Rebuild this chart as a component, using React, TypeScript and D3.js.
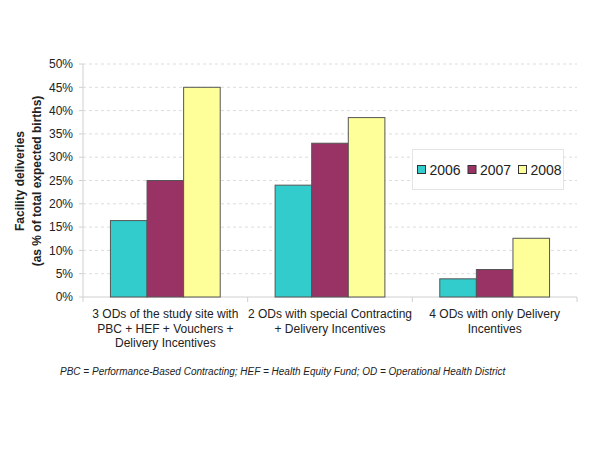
import React from "react";
import * as d3 from "d3";

const categories: string[][] = [
  ["3 ODs of the study site with", "PBC + HEF + Vouchers +", "Delivery Incentives"],
  ["2 ODs with special Contracting", "+ Delivery Incentives"],
  ["4 ODs with only Delivery", "Incentives"],
];
const years = ["2006", "2007", "2008"];
const values2006 = [16.4, 24.0, 3.9];
const values2007 = [25.0, 33.0, 5.9];
const values2008 = [45.0, 38.5, 12.6];
const yTicks = [0, 5, 10, 15, 20, 25, 30, 35, 40, 45, 50];
const colors = ["#33CCCC", "#993366", "#FFFF99"];

export default function App() {
  const W = 600, H = 450;
  const left = 83, right = 577, top = 64, bottom = 297;
  const series = [values2006, values2007, values2008];
  const x0 = d3.scaleBand<number>().domain(d3.range(categories.length)).range([left, right]).paddingInner(0).paddingOuter(0);
  const x1 = d3.scaleBand<number>().domain(d3.range(years.length)).range([0, x0.bandwidth()]).paddingOuter(0.75).paddingInner(0);
  const y = d3.scaleLinear().domain([0, 50]).range([bottom, top]);
  const font = "Liberation Sans, Arial, sans-serif";
  const step = x0.step();
  return (
    <svg width={W} height={H} style={{ position: "absolute", left: 0, top: 0, background: "#fff" }} fontFamily={font}>
      <rect width={W} height={H} fill="#fff" />
      {yTicks.map((t) => (
        <g key={t}>
          {t > 0 && (
            <line x1={left} x2={right} y1={y(t)} y2={y(t)} stroke="#dcdcdc" strokeDasharray="3,3" strokeWidth={1} />
          )}
          <line x1={left - 4} x2={left} y1={y(t)} y2={y(t)} stroke="#d0d0d0" />
          <text x={73} y={y(t)} dy="0.35em" textAnchor="end" fontSize={12} fill="#222">
            {t}%
          </text>
        </g>
      ))}
      <line x1={left} x2={left} y1={top} y2={bottom} stroke="#d0d0d0" />
      <line x1={left} x2={right} y1={bottom} y2={bottom} stroke="#d0d0d0" />
      {d3.range(categories.length + 1).map((i) => (
        <line key={i} x1={left + i * step} x2={left + i * step} y1={bottom} y2={bottom + 5} stroke="#d0d0d0" />
      ))}
      {categories.map((c, ci) =>
        series.map((s, si) => (
          <rect
            key={ci + "-" + si}
            x={(x0(ci) as number) + (x1(si) as number)}
            y={y(s[ci])}
            width={x1.bandwidth()}
            height={bottom - y(s[ci])}
            fill={colors[si]}
            stroke="#555"
            strokeWidth={1}
          />
        ))
      )}
      {categories.map((lines, ci) => (
        <text key={ci} x={(x0(ci) as number) + x0.bandwidth() / 2} textAnchor="middle" fontSize={12} fill="#222">
          {lines.map((l, li) => (
            <tspan key={li} x={(x0(ci) as number) + x0.bandwidth() / 2} y={318 + li * 14.5}>
              {l}
            </tspan>
          ))}
        </text>
      ))}
      <g transform={`translate(29,181) rotate(-90)`}>
        <text textAnchor="middle" fontSize={12} fontWeight="bold" fill="#222">
          <tspan x={0} y={-5}>Facility deliveries</tspan>
          <tspan x={0} y={12}>(as % of total expected births)</tspan>
        </text>
      </g>
      <rect x={412.5} y={149.5} width={151} height={40} fill="#fff" stroke="#e4e4e4" />
      {years.map((yr, i) => (
        <g key={yr} transform={`translate(${417.5 + i * 50.5},165.5)`}>
          <rect width={8} height={8} fill={colors[i]} stroke="#333" />
          <text x={12} y={4} dy="0.38em" fontSize={14} fill="#222">
            {yr}
          </text>
        </g>
      ))}
      <text x={60} y={375} fontSize={10} fontStyle="italic" fill="#222">
        PBC = Performance-Based Contracting; HEF = Health Equity Fund; OD = Operational Health District
      </text>
    </svg>
  );
}
